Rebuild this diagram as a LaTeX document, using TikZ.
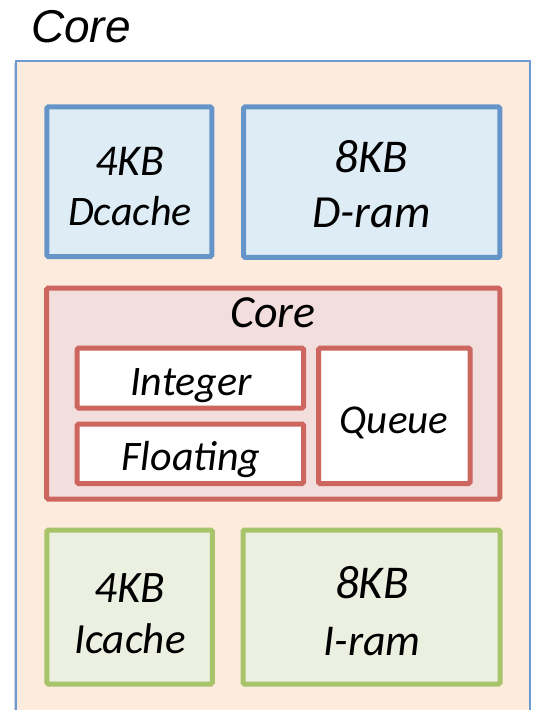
\documentclass[tikz,border=0pt]{standalone}
\usepackage{fontspec}
\setmainfont{Carlito}
\newfontfamily\arialfont{Liberation Sans}
\definecolor{outerfill}{RGB}{253,235,222}
\definecolor{outerline}{RGB}{110,155,210}
\definecolor{bluefill}{RGB}{222,236,245}
\definecolor{blueline}{RGB}{101,149,200}
\definecolor{redfill}{RGB}{242,222,221}
\definecolor{redline}{RGB}{205,102,95}
\definecolor{greenfill}{RGB}{235,240,225}
\definecolor{greenline}{RGB}{168,196,106}
\tikzset{
  boxbase/.style={rectangle, inner sep=0pt, outer sep=0pt, line width=5pt, rounded corners=1.5pt},
  bluebox/.style={boxbase, draw=blueline, fill=bluefill},
  redbox/.style={boxbase, draw=redline, fill=redfill},
  whitebox/.style={boxbase, draw=redline, fill=white},
  greenbox/.style={boxbase, draw=greenline, fill=greenfill},
  lbl/.style={anchor=base, inner sep=0pt, font=\itshape},
}
\newcommand{\fsz}[1]{\fontsize{#1}{#1}\selectfont}
\begin{document}
\begin{tikzpicture}[x=1pt,y=-1pt]
\useasboundingbox (0,0) rectangle (535,710);
\clip (0,0) rectangle (535,710);
\fill[white] (0,0) rectangle (535,710);
% outer container
\fill[black!18] (14,63) rectangle (15.5,720);
\node[rectangle, inner sep=0pt, draw=outerline, fill=outerfill, line width=1.5pt,
      minimum width=514pt, minimum height=680pt] (outer) at (273,401) {};
\node[anchor=base west, inner sep=0pt, font=\arialfont\itshape\fsz{46}] (title) at (31,42) {Core};
% data side
\node[bluebox, minimum width=165pt, minimum height=149.7pt] (dcache) at (129.3,181.7) {};
\node[bluebox, minimum width=256.3pt, minimum height=150.5pt] (dram) at (371.7,182.2) {};
\node[lbl, font=\itshape\fsz{44}] (dcacheA) at (130,175) {4KB};
\node[lbl, font=\itshape\fsz{42}] (dcacheB) at (130,225) {Dcache};
\node[lbl, font=\itshape\fsz{47}] (dramA) at (371.5,172) {8KB};
\node[lbl, font=\itshape\fsz{46}] (dramB) at (371.5,227) {D-ram};
% core
\node[redbox, minimum width=453.3pt, minimum height=211pt] (core) at (273.3,393.5) {};
\node[lbl, font=\itshape\fsz{46}] (corelbl) at (273,327) {Core};
\node[whitebox, minimum width=226.5pt, minimum height=60pt] (integer) at (190.3,378) {};
\node[whitebox, minimum width=226.5pt, minimum height=59.5pt] (floating) at (190.3,453.8) {};
\node[whitebox, minimum width=151.5pt, minimum height=135.5pt] (queue) at (394.3,415.8) {};
\node[lbl, font=\itshape\fsz{42}] (intlbl) at (191,395) {Integer};
\node[lbl, font=\itshape\fsz{42}] (fltlbl) at (191,470) {Floating};
\node[lbl, font=\itshape\fsz{41}] (qlbl) at (394,433) {Queue};
% instruction side
\node[greenbox, minimum width=165.5pt, minimum height=154pt] (icache) at (129.7,607) {};
\node[greenbox, minimum width=257pt, minimum height=154pt] (iram) at (371.5,607) {};
\node[lbl, font=\itshape\fsz{45}] (icacheA) at (130,602) {4KB};
\node[lbl, font=\itshape\fsz{43}] (icacheB) at (130,653) {Icache};
\node[lbl, font=\itshape\fsz{47}] (iramA) at (372,598) {8KB};
\node[lbl, font=\itshape\fsz{44}] (iramB) at (372,655) {I-ram};
\end{tikzpicture}
\end{document}
